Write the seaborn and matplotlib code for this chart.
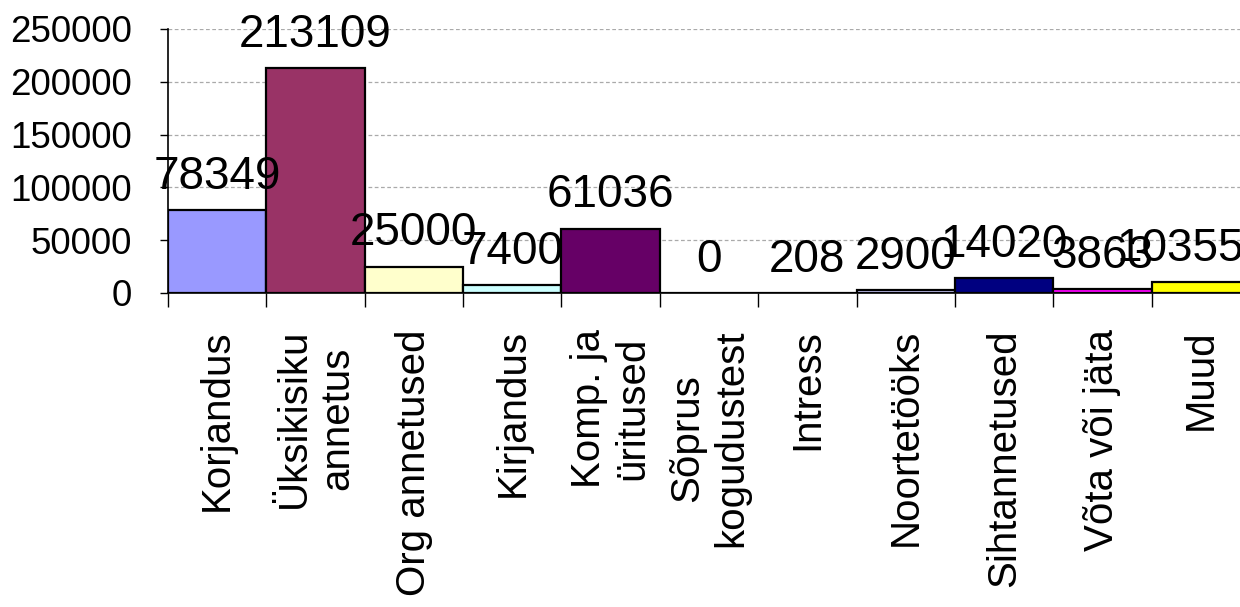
import matplotlib
matplotlib.use("Agg")
import matplotlib.pyplot as plt
import seaborn as sns
import pandas as pd
from matplotlib.ticker import MultipleLocator, FixedLocator

# andmed (loetud pildilt)
categories = [
    "Korjandus", "Üksikisiku\nannetus", "Org annetused", "Kirjandus",
    "Komp. ja\nüritused", "Sõprus\nkogudustest", "Intress", "Noortetööks",
    "Sihtannetused", "Võta või jäta", "Muud",
]
values = [78349, 213109, 25000, 7400, 61036, 0, 208, 2900, 14020, 3863, 10355]
colors = [
    "#9999FF", "#993366", "#FFFFCC", "#CCFFFF", "#660066", "#FF8080",
    "#0066CC", "#CCCCFF", "#000080", "#FF00FF", "#FFFF00",
]
y_ticks = [0, 50000, 100000, 150000, 200000, 250000]

df = pd.DataFrame({"kategooria": categories, "summa": values})

sns.set_theme(style="white")
plt.rcParams["font.family"] = ["Liberation Sans", "DejaVu Sans"]
plt.rcParams["text.color"] = "black"
plt.rcParams["xtick.color"] = "black"
plt.rcParams["ytick.color"] = "black"

fig = plt.figure(figsize=(12.4, 6.07), dpi=100)
ax = fig.add_axes([168 / 1240, 314 / 607, 1082 / 1240, 264 / 607])

sns.barplot(
    data=df, x="kategooria", y="summa", hue="kategooria",
    palette=colors, saturation=1, width=1.0, legend=False,
    edgecolor="black", linewidth=1.6, ax=ax,
)

ax.set_xlim(-0.5, len(categories) - 0.5)
ax.set_ylim(0, 250000)
ax.yaxis.set_major_locator(FixedLocator(y_ticks))
ax.yaxis.grid(True, color="#aaaaaa", linestyle=(0, (3, 2)), linewidth=0.9)
ax.set_axisbelow(True)

labels = []
for c in ax.containers:
    labels += ax.bar_label(c, fmt="%d", padding=8, fontsize=33, color="black")
# viimane silt nihutatud vasakule, et mahuks pildile (nagu Excelis)
labels[-1].xyann = (-15, 8)

for s in ["top", "right"]:
    ax.spines[s].set_visible(False)
ax.spines["left"].set_color("black")
ax.spines["bottom"].set_color("black")
ax.spines["left"].set_linewidth(1.2)
ax.spines["bottom"].set_linewidth(1.2)

ax.set_xlabel("")
ax.set_ylabel("")
ax.tick_params(axis="y", which="major", direction="out", length=6, width=1,
               colors="black", pad=20, labelsize=26.5, left=True)
ax.tick_params(axis="x", which="major", length=0, pad=26, labelsize=29,
               labelcolor="black")
ax.xaxis.set_minor_locator(MultipleLocator(1, offset=0.5))
ax.tick_params(axis="x", which="minor", direction="out", length=10, width=1,
               color="black", bottom=True)
for lbl in ax.get_xticklabels():
    lbl.set_rotation(90)
    lbl.set_multialignment("center")
    lbl.set_linespacing(1.2)

fig.savefig("out.png", dpi=100)
